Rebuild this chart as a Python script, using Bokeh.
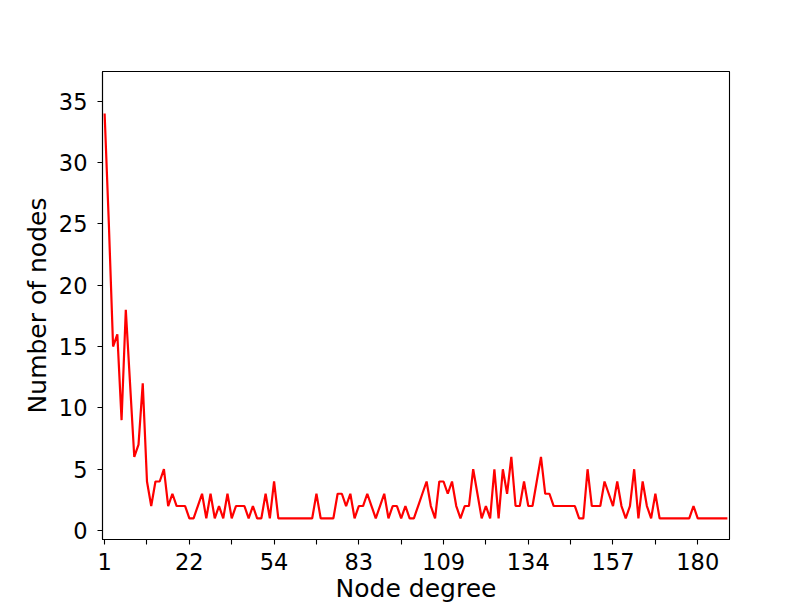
from bokeh.plotting import figure
from bokeh.models import Range1d, FixedTicker, ColumnDataSource
from bokeh.embed import file_html
from bokeh.resources import INLINE

# Number of nodes per (sorted, distinct) node degree
counts = [34, 25, 15, 16, 9, 18, 12, 6, 7, 12,
          4, 2, 4, 4, 5, 2, 3, 2, 2, 2,
          1, 1, 2, 3, 1, 3, 1, 2, 1, 3,
          1, 2, 2, 2, 1, 2, 1, 1, 3, 1,
          4, 1, 1, 1, 1, 1, 1, 1, 1, 1,
          3, 1, 1, 1, 1, 3, 3, 2, 3, 1,
          2, 2, 3, 2, 1, 2, 3, 1, 2, 2,
          1, 2, 1, 1, 2, 3, 4, 2, 1, 4,
          4, 3, 4, 2, 1, 2, 2, 5, 3, 1,
          2, 1, 5, 1, 5, 3, 6, 2, 2, 4,
          2, 2, 4, 6, 3, 3, 2, 2, 2, 2,
          2, 2, 1, 1, 5, 2, 2, 2, 4, 3,
          2, 4, 2, 1, 2, 5, 1, 4, 2, 1,
          3, 1, 1, 1, 1, 1, 1, 1, 1, 2,
          1, 1, 1, 1, 1, 1, 1, 1]
positions = list(range(len(counts)))

xtick_positions = [0, 10, 20, 30, 40, 50, 60, 70, 80, 90, 100, 110, 120, 130, 140]
xtick_labels = ["1", "", "22", "", "54", "", "83", "", "109", "", "134", "", "157", "", "180"]
ytick_positions = [0, 5, 10, 15, 20, 25, 30, 35]

FONT = "DejaVu Sans"

p = figure(width=810, height=606, output_backend="svg", toolbar_location=None,
           x_range=Range1d(-0.5, 147.5), y_range=Range1d(-0.73, 37.43),
           min_border_left=102, min_border_right=81, min_border_top=71, min_border_bottom=67)
p.background_fill_color = "white"
p.border_fill_color = "white"
p.outline_line_color = "black"
p.outline_line_width = 1.1
p.grid.visible = False

src = ColumnDataSource(dict(x=positions, y=counts))
p.line("x", "y", source=src, line_color="red", line_width=2.2)

p.xaxis.ticker = FixedTicker(ticks=xtick_positions)
p.xaxis.major_label_overrides = {t: l for t, l in zip(xtick_positions, xtick_labels)}
p.yaxis.ticker = FixedTicker(ticks=ytick_positions)

for ax in (p.xaxis, p.yaxis):
    ax.axis_line_color = "black"
    ax.axis_line_width = 1.1
    ax.major_tick_line_color = "black"
    ax.major_tick_line_width = 1.1
    ax.major_tick_out = 5
    ax.major_tick_in = 0
    ax.minor_tick_out = 0
    ax.minor_tick_in = 0
    ax.major_label_text_font = FONT
    ax.major_label_text_font_size = "22.5px"
    ax.major_label_text_color = "black"
    ax.axis_label_text_font = FONT
    ax.axis_label_text_font_size = "25px"
    ax.axis_label_text_font_style = "normal"
    ax.axis_label_text_color = "black"

p.xaxis.axis_label = "Node degree"
p.yaxis.axis_label = "Number of nodes"
p.xaxis.major_label_standoff = 8
p.xaxis.axis_label_standoff = 1
p.yaxis.major_label_standoff = 10
p.yaxis.axis_label_standoff = 4

open("out.html", "w").write(file_html(p, INLINE))
